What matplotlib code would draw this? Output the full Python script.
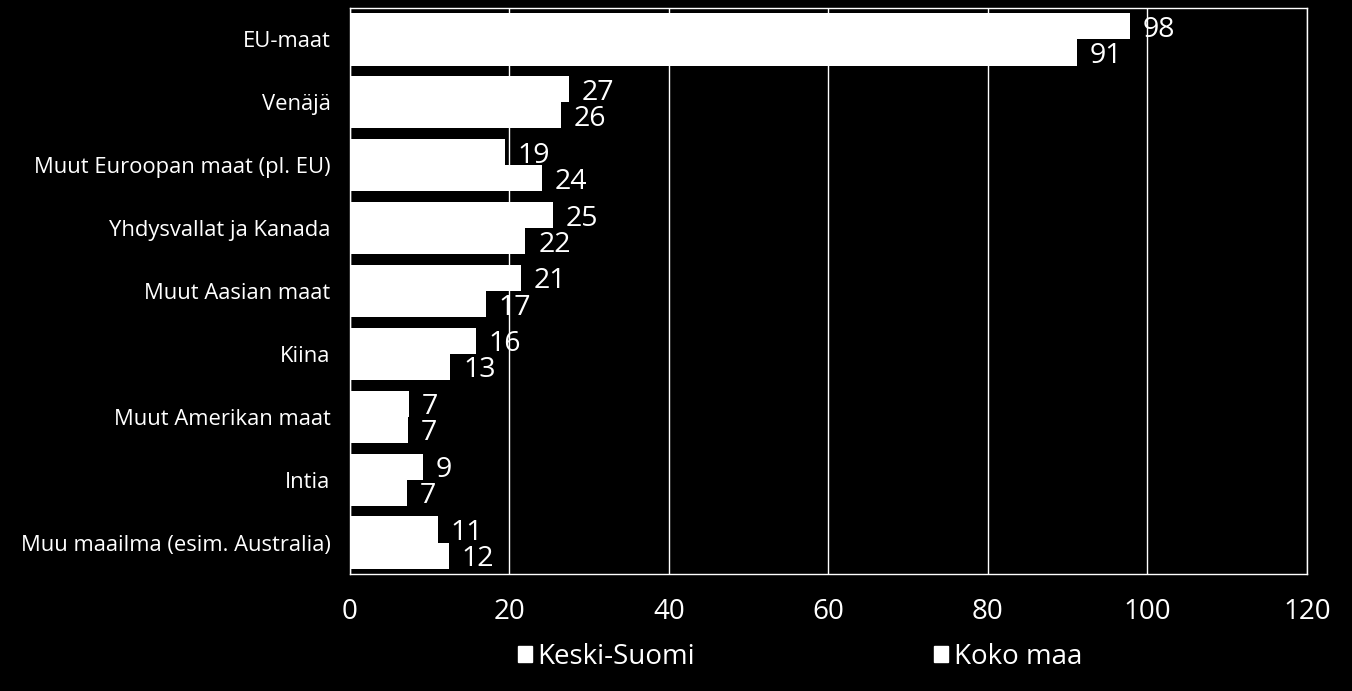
import matplotlib
matplotlib.use("Agg")
import matplotlib.pyplot as plt
import numpy as np
from matplotlib.patches import Patch

categories = ["EU-maat", "Venäjä", "Muut Euroopan maat (pl. EU)", "Yhdysvallat ja Kanada",
              "Muut Aasian maat", "Kiina", "Muut Amerikan maat", "Intia",
              "Muu maailma (esim. Australia)"]
keski_suomi = [97.8, 27.4, 19.4, 25.4, 21.4, 15.8, 7.45, 9.1, 11.0]
koko_maa = [91.1, 26.4, 24.1, 22.0, 17.0, 12.6, 7.3, 7.2, 12.4]
series_names = ["Keski-Suomi", "Koko maa"]
xticks = [0, 20, 40, 60, 80, 100, 120]

plt.rcParams['font.family'] = ['Open Sans', 'DejaVu Sans']

fig = plt.figure(figsize=(13.52, 6.91), dpi=100, facecolor='black')
ax = fig.add_axes([350/1352, 1-574/691, (1307-350)/1352, (574-8)/691])
ax.set_facecolor('black')

y = np.arange(len(categories))
h = 0.415
b1 = ax.barh(y - h/2, keski_suomi, height=h, color='white', zorder=3)
b2 = ax.barh(y + h/2, koko_maa, height=h, color='white', zorder=3)

for bars, vals in ((b1, keski_suomi), (b2, koko_maa)):
    for bar, v in zip(bars, vals):
        ax.text(v + 1.6, bar.get_y() + bar.get_height()/2, f"{v:.0f}",
                color='white', fontsize=20.5, va='center_baseline', ha='left', zorder=4)

ax.set_xlim(0, 120)
ax.set_ylim(len(categories) - 0.5, -0.5)
ax.set_xticks(xticks)
ax.set_xticklabels([str(t) for t in xticks])
ax.set_yticks(y)
ax.set_yticklabels(categories)
ax.tick_params(axis='x', colors='white', labelsize=20, length=0, pad=17)
ax.tick_params(axis='y', colors='white', labelsize=15.8, length=0, pad=14)
ax.grid(axis='x', color='white', linewidth=1, zorder=1)
for s in ax.spines.values():
    s.set_color('white')
    s.set_linewidth(1)

handles = [Patch(facecolor='white', edgecolor='white'), Patch(facecolor='white', edgecolor='white')]
fig.legend(handles, series_names, loc='center', bbox_to_anchor=(800/1352, 1-657/691),
           ncol=2, frameon=False, fontsize=20, labelcolor='white',
           handlelength=0.5, handleheight=0.5, handletextpad=0.2, columnspacing=8.6)

fig.savefig("out.png", dpi=100, facecolor='black')
